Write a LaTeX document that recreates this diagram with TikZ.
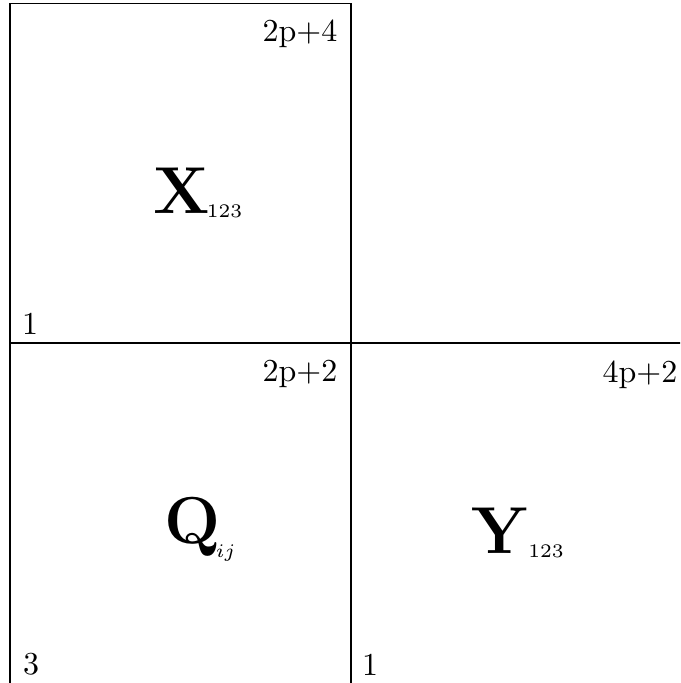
\documentclass[tikz,border=0pt]{standalone}
\begin{document}
\begin{tikzpicture}[x=0.3125pt,y=-0.3125pt,
  box/.style={draw=black,line width=0.38pt},
  lbl/.style={inner sep=0pt,font=\normalsize},
  big/.style={inner sep=0pt,anchor=base west}]
\useasboundingbox (0,0) rectangle (680,683);
\clip (0,0) rectangle (680,683);
% boxes
\draw[box] (10,3.3) rectangle (351,343);
\draw[box] (10,343) rectangle (351,700);
\draw[box] (351,343) rectangle (700,700);
% corner labels
\node[lbl,anchor=base east] (tlr) at (338,41) {2p+4};
\node[lbl,anchor=base west] (tll) at (21.5,334) {1};
\node[lbl,anchor=base east] (blr) at (338,381) {2p+2};
\node[lbl,anchor=base west] (bll) at (22.5,674) {3};
\node[lbl,anchor=base east] (brr) at (678,382) {4p+2};
\node[lbl,anchor=base west] (brl) at (361.5,675) {1};
% big labels
\node[big] (X) at (153,213) {{\huge$\mathbf{X}$}\kern-1pt\raisebox{-1.56pt}{\fontsize{6}{7}\selectfont 123}};
\node[big] (Q) at (164,543) {{\huge$\mathbf{Q}$}\kern-1.5pt\raisebox{-4.5pt}{\fontsize{6}{7}\selectfont$ij$}};
\node[big] (Y) at (471,553) {{\huge$\mathbf{Y}$}\kern-0.5pt\raisebox{-1.56pt}{\fontsize{6}{7}\selectfont 123}};
\end{tikzpicture}
\end{document}
